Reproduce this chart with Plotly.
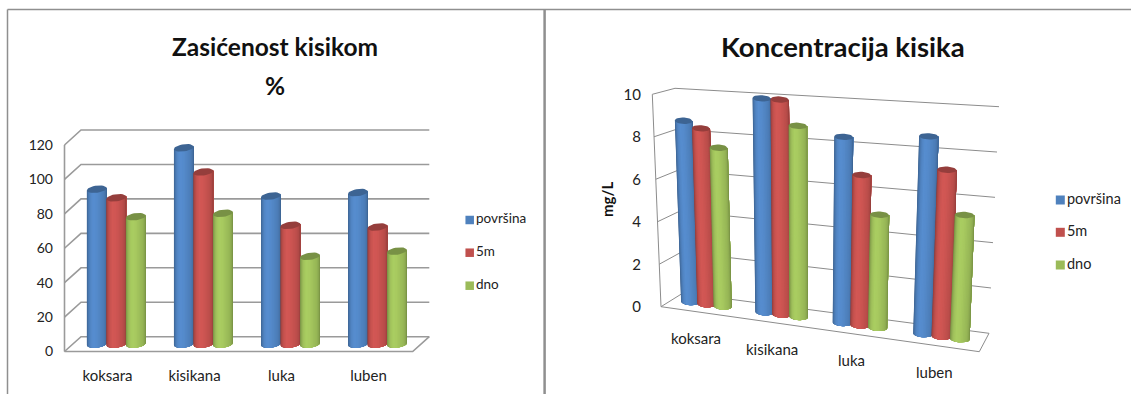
import numpy as np
import plotly.graph_objects as go

# ---- data ----
categories = ["koksara", "kisikana", "luka", "luben"]
series_names = ["površina", "5m", "dno"]
zasicenost_povrsina = [90, 114, 86, 88]
zasicenost_5m = [85, 100, 69, 68]
zasicenost_dno = [74, 76, 51, 54]
koncentracija_povrsina = [8.6, 9.9, 8.4, 8.7]
koncentracija_5m = [8.3, 9.9, 6.75, 7.3]
koncentracija_dno = [7.45, 8.75, 5.05, 5.4]
left_ticks = [0, 20, 40, 60, 80, 100, 120]
right_ticks = [0, 2, 4, 6, 8, 10]
# ---- style ----
base_colors = [(79, 129, 189), (192, 80, 77), (155, 187, 89)]
shade_stops = [0.74, 0.88, 1.03, 1.10, 1.08, 1.02, 0.97, 0.88, 0.70]
N_STRIPS = 20
shades = list(np.interp(np.linspace(0, 1, N_STRIPS), np.linspace(0, 1, len(shade_stops)), shade_stops))
FONT = "Lato"
W, H = 1131, 394


def rgb(c, m):
    return "rgb(%d,%d,%d)" % tuple(min(255, int(v * m)) for v in c)


class Panel:
    """3D-look panel: maps (category, value, depth) through the wall/floor box onto a 2D axis pair."""

    def __init__(self, xa, ya, dom_x, dom_y, x_ref, y_ref, corners, vmax, h_ell, tilt, grid_w, grid_c,
                 lift=0.0, warp=0.0):
        self.xa, self.ya = xa, ya
        self.dx, self.dy = dom_x, dom_y
        self.xr, self.yr = x_ref, y_ref  # (px at 0, px per unit)
        self.c = corners
        self.vmax = vmax
        self.h, self.tilt = h_ell, tilt
        self.gw, self.gc = grid_w, grid_c
        self.lift = lift
        self.warp = warp  # perspective foreshortening along the category direction

    def ux(self, px):
        return (px - self.xr[0]) / self.xr[1]

    def uy(self, py):
        return (self.yr[0] - py) / self.yr[1]

    def proj(self, c, v, d):
        cc = c / 4.0
        cc = cc - self.warp * cc * (1 - cc)
        vv = v / self.vmax
        C = self.c
        out = np.zeros(2)
        for ci, cw in ((0, 1 - cc), (1, cc)):
            for vi, vw in ((0, 1 - vv), (1, vv)):
                for di, dw in ((0, 1 - d), (1, d)):
                    out = out + cw * vw * dw * np.array(C[(ci, vi, di)])
        return out

    def xrange(self):
        return [self.ux(self.dx[0]), self.ux(self.dx[1])]

    def yrange(self):
        return [self.uy(self.dy[1]), self.uy(self.dy[0])]


def line_trace(p, pts):
    xs, ys = [], []
    for seg in pts:
        for q in seg:
            xs.append(p.ux(q[0]))
            ys.append(p.uy(q[1]))
        xs.append(None)
        ys.append(None)
    return go.Scatter(x=xs, y=ys, mode="lines", line=dict(color=p.gc, width=p.gw),
                      xaxis=p.xa, yaxis=p.ya, hoverinfo="skip", showlegend=False)


def add_box(fig, p, ticks):
    seg = []
    for t in ticks:
        seg.append([p.proj(0, t, 0), p.proj(0, t, 1), p.proj(4, t, 1)])
    seg.append([p.proj(0, 0, 0), p.proj(0, ticks[-1], 0)])
    seg.append([p.proj(0, 0, 0), p.proj(4, 0, 0), p.proj(4, 0, 1)])
    fig.add_trace(line_trace(p, seg))


def add_cylinders(fig, p, values, group_d, spacing, width_fn):
    thetas = np.linspace(np.pi, 0, len(shades) + 1)
    for s, vals in enumerate(values):
        col = base_colors[s]
        strips = [([], []) for _ in shades]
        tx, ty = [], []
        for i, v in enumerate(vals):
            c = i + 0.5 + (s - 1) * spacing
            b = p.proj(c, 0, group_d) - np.array([0, p.lift])
            t = p.proj(c, v, group_d) - np.array([0, p.lift])
            w = width_fn(c) / 2.0

            def ring(center, th):
                return (center[0] + w * np.cos(th),
                        center[1] + p.h * np.sin(th) + p.tilt * w * np.cos(th))
            for j in range(len(shades)):
                a1 = thetas[j]
                arc = np.linspace(0, a1, 8)
                poly = [ring(t, a1), ring(t, 0)] + [ring(b, a) for a in arc] + [ring(t, a1)]
                sx, sy = strips[j]
                sx += [p.ux(q[0]) for q in poly] + [None]
                sy += [p.uy(q[1]) for q in poly] + [None]
            el = [ring(t, a) for a in np.linspace(0, 2 * np.pi, 30)]
            tx += [p.ux(q[0]) for q in el] + [None]
            ty += [p.uy(q[1]) for q in el] + [None]
        for j, m in enumerate(shades):
            fig.add_trace(go.Scatter(x=strips[j][0], y=strips[j][1], mode="lines", fill="toself",
                                     fillcolor=rgb(col, m), line=dict(width=0),
                                     xaxis=p.xa, yaxis=p.ya, hoverinfo="skip", showlegend=False))
        fig.add_trace(go.Scatter(x=tx, y=ty, mode="lines", fill="toself", fillcolor=rgb(col, 0.78),
                                 line=dict(width=0),
                                 xaxis=p.xa, yaxis=p.ya, hoverinfo="skip", showlegend=False))


def add_legend(fig, p, x_swatch, ys, size, font_size):
    for name, col, y in zip(series_names, base_colors, ys):
        fig.add_trace(go.Scatter(x=[p.ux(x_swatch)], y=[p.uy(y)], mode="markers+text",
                                 marker=dict(symbol="square", size=size, color=rgb(col, 1)),
                                 text=[name], textposition="middle right",
                                 textfont=dict(family=FONT, size=font_size, color="#222"),
                                 xaxis=p.xa, yaxis=p.ya, hoverinfo="skip", showlegend=False, name=name))


left = Panel("x", "y", (54, 540), (120, 365), (107.5 - 0, 87.0), (351.5, 206.5 / 120),
             {(0, 0, 0): (64.5, 351.5), (0, 1, 0): (64.5, 145), (0, 0, 1): (81, 336.7), (0, 1, 1): (81, 130),
              (1, 0, 0): (412.7, 351.5), (1, 1, 0): (412.7, 145), (1, 0, 1): (429.3, 336.7), (1, 1, 1): (429.3, 130)},
             120, 3.6, -0.12, 1.6, "#9a9a9a")
right = Panel("x2", "y2", (642, 1131), (80, 390), (661 + 318.3 / 8, 79.575), (306.7, 21.2),
              {(0, 0, 0): (661, 306.7), (0, 1, 0): (652.3, 94.3), (0, 0, 1): (683, 293), (0, 1, 1): (675, 88.3),
               (1, 0, 0): (979.3, 351.7), (1, 1, 0): (990, 117), (1, 0, 1): (989, 333.3), (1, 1, 1): (999, 106.7)},
             10, 3.2, 0.05, 1.0, "#8c8c8c", lift=2.0, warp=0.08)

fig = go.Figure()
add_box(fig, left, left_ticks)
add_cylinders(fig, left, [zasicenost_povrsina, zasicenost_5m, zasicenost_dno], 0.5, 0.2241,
              lambda c: 19.8)
add_legend(fig, left, 469.7, [220, 252.7, 285.7], 8.5, 13.5)
add_box(fig, right, right_ticks)
add_cylinders(fig, right, [koncentracija_povrsina, koncentracija_5m, koncentracija_dno], 0.4, 0.222,
              lambda c: 17.6 + 0.55 * c)
add_legend(fig, right, 1060.3, [200, 232.3, 265], 9, 14.5)

annos = []
for i, name in enumerate(categories):
    q = right.proj(i + 0.5, 0, 0)
    annos.append(dict(x=right.ux(q[0] - 2), y=right.uy(q[1] + 26.5), xref="x2", yref="y2", text=name,
                      showarrow=False, font=dict(family=FONT, size=15, color="#222")))
for x, y, txt, size, angle in [(275, 46, "<b>Zasićenost kisikom</b>", 24.5, 0),
                               (275, 85, "<b>%</b>", 24.5, 0),
                               (843, 46, "<b>Koncentracija kisika</b>", 27.5, 0),
                               (607, 200, "<b>mg/L</b>", 15, -90)]:
    annos.append(dict(x=x / W, y=1 - y / H, xref="paper", yref="paper", text=txt, showarrow=False,
                      xanchor="center", yanchor="middle", textangle=angle,
                      font=dict(family=FONT, size=size, color="#111")))

frame = [
    dict(x0=7.5, x1=7.5, y0=9.5, y1=394, w=1.5),
    dict(x0=7.5, x1=1131, y0=9.5, y1=9.5, w=1.5),
    dict(x0=544.6, x1=544.6, y0=9.5, y1=394, w=2.5),
]
shapes = [dict(type="line", xref="paper", yref="paper", x0=f["x0"] / W, x1=f["x1"] / W,
               y0=1 - f["y0"] / H, y1=1 - f["y1"] / H, line=dict(color="#8f8f8f", width=f["w"])) for f in frame]

fig.update_layout(
    width=W, height=H, autosize=False, margin=dict(l=0, r=0, t=0, b=0),
    paper_bgcolor="white", plot_bgcolor="white", showlegend=False,
    annotations=annos, shapes=shapes,
    xaxis=dict(domain=[left.dx[0] / W, left.dx[1] / W], range=left.xrange(), tickvals=[0, 1, 2, 3],
               ticktext=categories, showgrid=False, zeroline=False, ticks="",
               tickfont=dict(family=FONT, size=15, color="#222")),
    yaxis=dict(domain=[1 - left.dy[1] / H, 1 - left.dy[0] / H], range=left.yrange(), tickvals=left_ticks,
               showgrid=False, zeroline=False, ticks="", tickfont=dict(family=FONT, size=14, color="#222")),
    xaxis2=dict(domain=[right.dx[0] / W, right.dx[1] / W], range=right.xrange(), anchor="y2",
                showticklabels=False, showgrid=False, zeroline=False, ticks=""),
    yaxis2=dict(domain=[1 - right.dy[1] / H, 1 - right.dy[0] / H], range=right.yrange(), anchor="x2",
                tickvals=right_ticks, showgrid=False, zeroline=False, ticks="",
                tickfont=dict(family=FONT, size=15, color="#222")),
)
fig.write_html("out.html", config=dict(displayModeBar=False),
               post_script="document.body.style.margin='0';document.documentElement.style.overflow='hidden';")
